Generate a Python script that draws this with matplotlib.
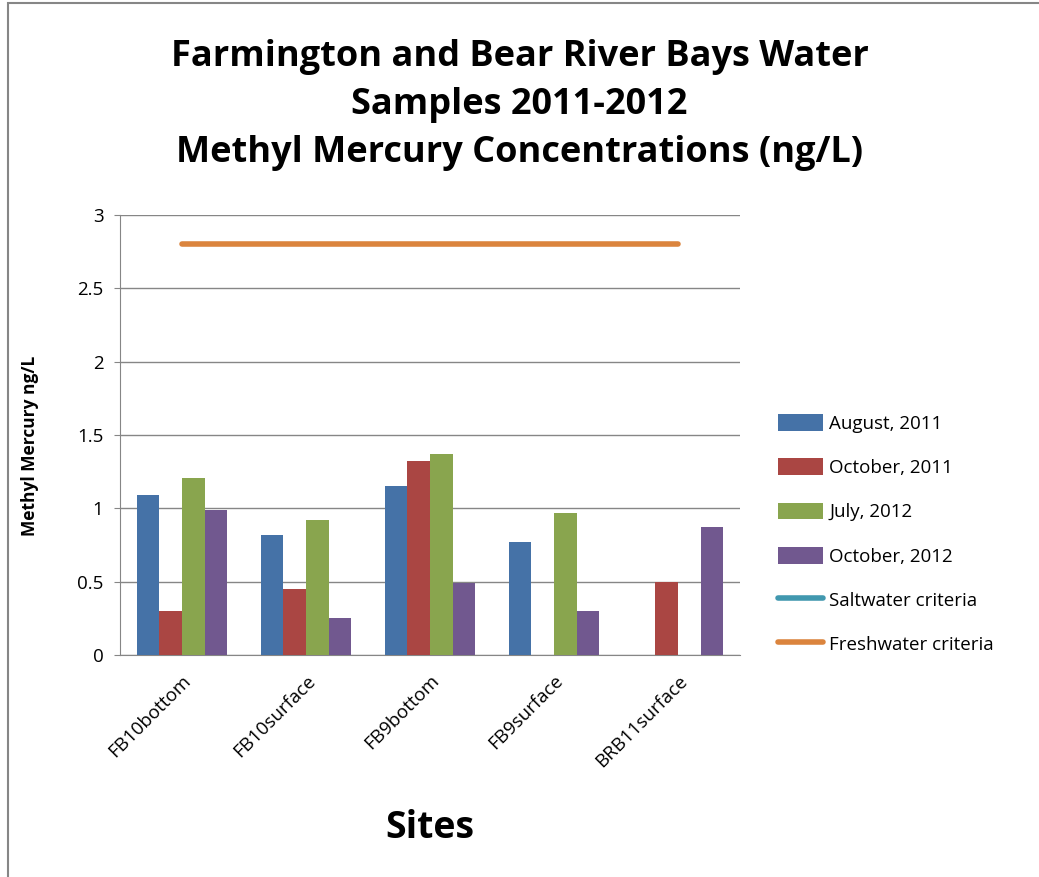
import matplotlib.pyplot as plt
import numpy as np
from matplotlib.patches import Rectangle

sites = ['FB10bottom', 'FB10surface', 'FB9bottom', 'FB9surface', 'BRB11surface']
aug_2011 = [1.09, 0.82, 1.15, 0.77, np.nan]
oct_2011 = [0.30, 0.45, 1.32, np.nan, 0.50]
jul_2012 = [1.21, 0.92, 1.37, 0.97, np.nan]
oct_2012 = [0.99, 0.25, 0.49, 0.30, 0.87]
saltwater = [np.nan] * 5
freshwater = [2.8, 2.8, 2.8, 2.8, 2.8]

series = [('August, 2011', aug_2011, '#4572A7'),
          ('October, 2011', oct_2011, '#AA4643'),
          ('July, 2012', jul_2012, '#89A54E'),
          ('October, 2012', oct_2012, '#71588F')]

plt.rcParams['font.family'] = ['Open Sans', 'DejaVu Sans']

fig = plt.figure(figsize=(10.39, 8.77), dpi=100)
ax = fig.add_axes([0.1155, 0.2531, 0.5967, 0.5017])

x = np.arange(len(sites))
w = 1 / 5.5
handles = []
for i, (name, vals, col) in enumerate(series):
    b = ax.bar(x + (i - 1.5) * w, vals, w, color=col, label=name, zorder=3)
    handles.append(b)
l1, = ax.plot(x, saltwater, color='#4198AF', lw=4, solid_capstyle='round', label='Saltwater criteria', zorder=4)
l2, = ax.plot(x, freshwater, color='#DB843D', lw=4, solid_capstyle='round', label='Freshwater criteria', zorder=4)
handles += [l1, l2]

ax.set_xlim(-0.5, len(sites) - 0.5)
ax.set_ylim(0, 3)
ax.set_yticks(np.arange(0, 3.01, 0.5))
ax.set_yticklabels(['0', '0.5', '1', '1.5', '2', '2.5', '3'])
ax.yaxis.grid(True, color='#868686', lw=1, zorder=0)
for s in ['top', 'right']:
    ax.spines[s].set_visible(False)
ax.spines['left'].set_color('#868686')
ax.spines['bottom'].set_color('#868686')
ax.tick_params(axis='y', colors='#868686', length=4, labelcolor='black', labelsize=13.5, pad=8)
ax.set_xticks(x)
ax.set_xticklabels(sites, rotation=45, ha='right', rotation_mode='anchor', fontsize=13.5)
ax.tick_params(axis='x', length=0, pad=12)

ax.set_ylabel('Methyl Mercury ng/L', fontsize=12.5, fontweight='bold')
ax.yaxis.set_label_coords(-0.13, 0.475)
ax.set_xlabel('Sites', fontsize=27, fontweight='bold', labelpad=28)

fig.text(0.5, 0.88, 'Farmington and Bear River Bays Water\nSamples 2011-2012\nMethyl Mercury Concentrations (ng/L)',
         ha='center', va='center', fontsize=26, fontweight='bold', linespacing=1.45)

ax.legend(handles=handles, loc='center left', bbox_to_anchor=(0.733, 0.391),
          bbox_transform=fig.transFigure, frameon=False, fontsize=13.5,
          handlelength=2.35, handleheight=1.0, labelspacing=1.35, handletextpad=0.35)

fig.patches.append(Rectangle((8 / 1039, -0.1), 1.2, 1.1 - 3 / 877, transform=fig.transFigure,
                             fill=False, edgecolor='#868686', lw=1.5))

fig.savefig('out.png', dpi=100)
